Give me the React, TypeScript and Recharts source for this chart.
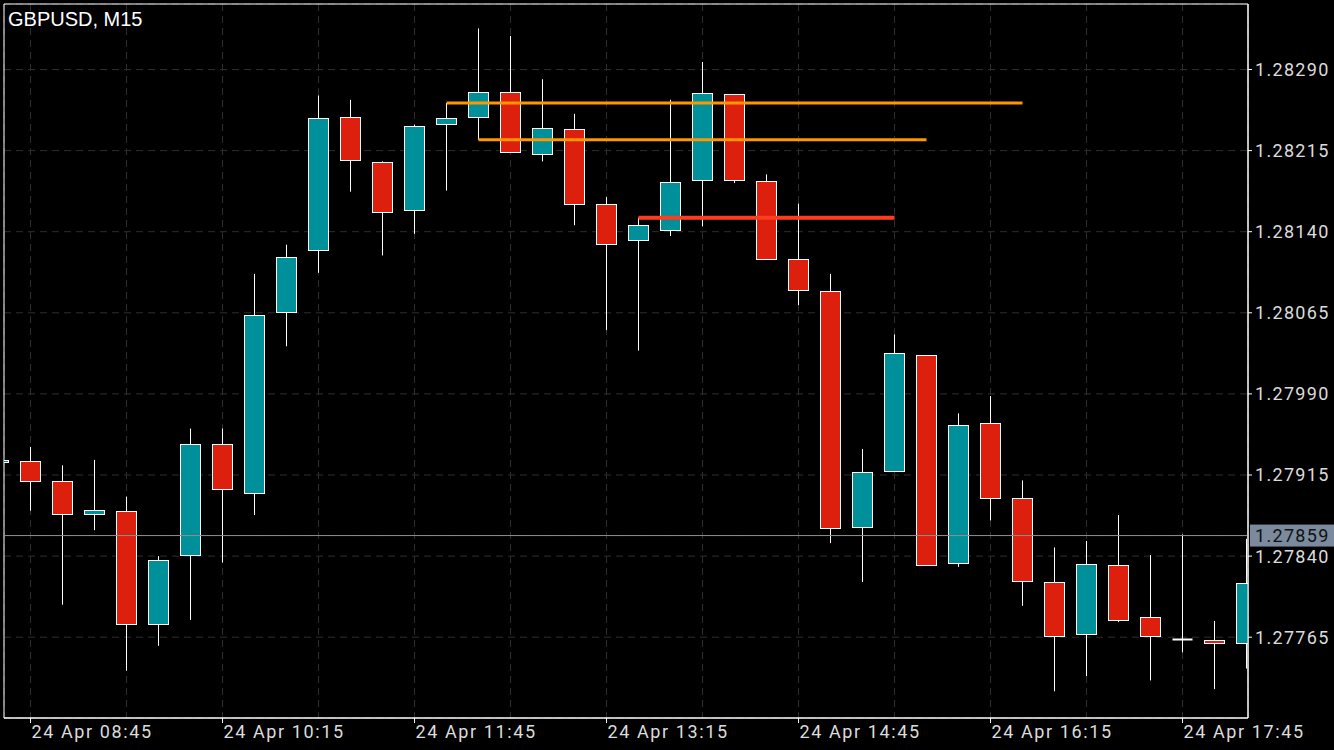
import React from 'react';
import { ComposedChart, Bar, XAxis, YAxis, CartesianGrid, ReferenceLine, ReferenceArea } from 'recharts';

// M15 bars, first one is the half-hidden bar before 08:45
const OPEN = [
  1.27927, 1.27928, 1.27909, 1.27879, 1.27882, 1.27777, 1.27841, 1.27944, 1.27898, 1.28066,
  1.28123, 1.28246, 1.28204, 1.2816, 1.2824, 1.28246, 1.28269, 1.28212, 1.28235, 1.28166,
  1.28132, 1.28142, 1.28188, 1.28267, 1.28187, 1.28115, 1.28085, 1.27867, 1.27919, 1.28026,
  1.27834, 1.27963, 1.27894, 1.27816, 1.27768, 1.27832, 1.27784, 1.27763, 1.27762, 1.2776,
];
const HIGH = [
  1.27929, 1.27941, 1.27924, 1.27929, 1.27895, 1.2784, 1.27958, 1.27958, 1.28101, 1.28128,
  1.28266, 1.28262, 1.28205, 1.28239, 1.28259, 1.28328, 1.28321, 1.28281, 1.28249, 1.28172,
  1.28153, 1.28262, 1.28297, 1.28267, 1.28193, 1.28166, 1.28101, 1.27939, 1.28045, 1.28026,
  1.27972, 1.27988, 1.2791, 1.27848, 1.27854, 1.27878, 1.27841, 1.2786, 1.2778, 1.27856,
];
const LOW = [
  1.27927, 1.27882, 1.27795, 1.27864, 1.27734, 1.27757, 1.27781, 1.27834, 1.27878, 1.28034,
  1.28102, 1.28177, 1.28118, 1.28138, 1.28178, 1.28225, 1.28213, 1.28205, 1.28146, 1.28049,
  1.2803, 1.28136, 1.28145, 1.28185, 1.28114, 1.28072, 1.27852, 1.27816, 1.27918, 1.27831,
  1.2783, 1.27873, 1.27794, 1.27715, 1.27729, 1.27779, 1.27725, 1.27751, 1.27717, 1.27736,
];
const CLOSE = [
  1.27929, 1.27909, 1.27879, 1.27883, 1.27777, 1.27836, 1.27944, 1.27902, 1.28063, 1.28117,
  1.28245, 1.28206, 1.28158, 1.28238, 1.28245, 1.28269, 1.28214, 1.28236, 1.28166, 1.28129,
  1.28146, 1.28186, 1.28268, 1.28188, 1.28115, 1.28086, 1.27866, 1.27918, 1.28028, 1.27832,
  1.27961, 1.27894, 1.27817, 1.27766, 1.27833, 1.27781, 1.27766, 1.27763, 1.2776, 1.27815,
];

const PRICE_TICKS = [1.27765, 1.2784, 1.27915, 1.2799, 1.28065, 1.2814, 1.28215, 1.2829];
const CURRENT = 1.27859;

const GRID_INDEX = [0, 3, 6, 9, 12, 15, 18, 21, 24, 27, 30, 33, 36];
const TIME_INDEX = [0, 6, 12, 18, 24, 30, 36];
const TIME_LABELS = ['24 Apr 08:45', '24 Apr 10:15', '24 Apr 11:45', '24 Apr 13:15', '24 Apr 14:45', '24 Apr 16:15', '24 Apr 17:45'];

// drawn levels: [price, from bar, to bar]
const LEVELS = [
  { price: 1.28259, from: 13, to: 31, color: '#ff9800', width: 3 },
  { price: 1.28225, from: 14, to: 28, color: '#ff9800', width: 3 },
  { price: 1.28153, from: 19, to: 27, color: '#ff3c1e', width: 4 },
];

const X_DOMAIN = [-0.828125, 38.046875];
const Y_DOMAIN = [1.2769028, 1.2835057];

const data = OPEN.map((o, k) => ({
  i: k - 1,
  o,
  h: HIGH[k],
  l: LOW[k],
  c: CLOSE[k],
  range: [LOW[k], HIGH[k]],
}));

const BULL = '#00909a';
const BEAR = '#dd1f0e';
const AXIS_FONT = 'Roboto, "DejaVu Sans", sans-serif';

const Candle = (props: any) => {
  const { x, y, width, height, payload } = props;
  if (!payload || x == null || y == null) return null;
  const { o, h, l, c } = payload;
  const top = Math.min(y, y + height);
  const span = Math.abs(height);
  const toY = (p: number) => top + ((h - p) / (h - l)) * span;
  const cx = x + width / 2;
  const yO = toY(o);
  const yC = toY(c);
  const bTop = Math.round(Math.min(yO, yC)) + 0.5;
  const bBot = Math.round(Math.max(yO, yC)) + 0.5;
  const up = c > o;
  return (
    <g>
      <line x1={cx} x2={cx} y1={top} y2={top + span} stroke="#fff" strokeWidth={1} />
      {bBot - bTop < 1 ? (
        <line x1={cx - 10} x2={cx + 10} y1={bTop} y2={bTop} stroke="#fff" strokeWidth={2} />
      ) : (
        <rect x={cx - 10} y={bTop} width={20} height={bBot - bTop} fill={up ? BULL : BEAR} stroke="#fff" strokeWidth={1} />
      )}
    </g>
  );
};

const TimeTick = (props: any) => {
  const { x, y, payload } = props;
  const k = TIME_INDEX.indexOf(payload.value);
  if (k < 0) return null;
  return (
    <g>
      <line x1={x} x2={x} y1={y - 5} y2={y} stroke="#fff" />
      <text x={x + 1} y={y + 15} fill="#dcdcdc" fontSize={18} fontFamily={AXIS_FONT} style={{ letterSpacing: 1.6 }}>
        {TIME_LABELS[k]}
      </text>
    </g>
  );
};

const PriceTick = (props: any) => {
  const { x, y, payload } = props;
  const v = payload.value;
  if (Math.abs(v - CURRENT) < 1e-9) {
    return (
      <g>
        <rect x={x - 5} y={y - 11} width={90} height={22} fill="#7b8a9c" />
        <text x={x} y={y} dy="0.36em" fill="#111" fontSize={18} fontFamily={AXIS_FONT} style={{ letterSpacing: 1.3 }}>
          {v.toFixed(5)}
        </text>
      </g>
    );
  }
  return (
    <g>
      <line x1={x - 7} x2={x - 3} y1={y} y2={y} stroke="#fff" />
      <text x={x} y={y} dy="0.36em" fill="#dcdcdc" fontSize={18} fontFamily={AXIS_FONT} style={{ letterSpacing: 1.3 }}>
        {v.toFixed(5)}
      </text>
    </g>
  );
};

export default function App() {
  return (
    <div style={{ position: 'absolute', left: 0, top: 0, width: 1334, height: 750, background: '#000', overflow: 'hidden' }}>
      <ComposedChart width={1334} height={750} data={data} margin={{ top: 4, left: 4, right: 6, bottom: 2 }}>
        <CartesianGrid stroke="#2e2e2e" strokeDasharray="7 5" />
        <XAxis
          dataKey="i"
          type="number"
          domain={X_DOMAIN}
          allowDataOverflow
          ticks={GRID_INDEX}
          interval={0}
          height={30}
          tickSize={5}
          tickMargin={0}
          tickLine={false}
          axisLine={{ stroke: '#fff' }}
          tick={<TimeTick />}
        />
        <YAxis
          orientation="right"
          type="number"
          domain={Y_DOMAIN}
          allowDataOverflow
          ticks={[...PRICE_TICKS, CURRENT].sort()}
          interval={0}
          width={80}
          tickSize={7}
          tickMargin={0}
          tickLine={false}
          axisLine={{ stroke: '#fff' }}
          tick={<PriceTick />}
        />
        <ReferenceLine y={CURRENT} stroke="#8e8e8e" strokeWidth={1} />
        <Bar dataKey="range" barSize={20} shape={<Candle />} isAnimationActive={false} />
        {LEVELS.map((lv, k) => (
          <ReferenceLine
            key={k}
            segment={[{ x: lv.from, y: lv.price }, { x: lv.to, y: lv.price }]}
            stroke={lv.color}
            strokeWidth={lv.width}
          />
        ))}
        <ReferenceArea x1={X_DOMAIN[0]} x2={X_DOMAIN[1]} y1={Y_DOMAIN[0]} y2={Y_DOMAIN[1]} fill="none" stroke="#fff" />
      </ComposedChart>
      <div style={{ position: 'absolute', left: 8, top: 9, color: '#fff', fontFamily: '"Liberation Sans", Arial, sans-serif', fontSize: 20, lineHeight: '20px' }}>
        GBPUSD, M15
      </div>
    </div>
  );
}
